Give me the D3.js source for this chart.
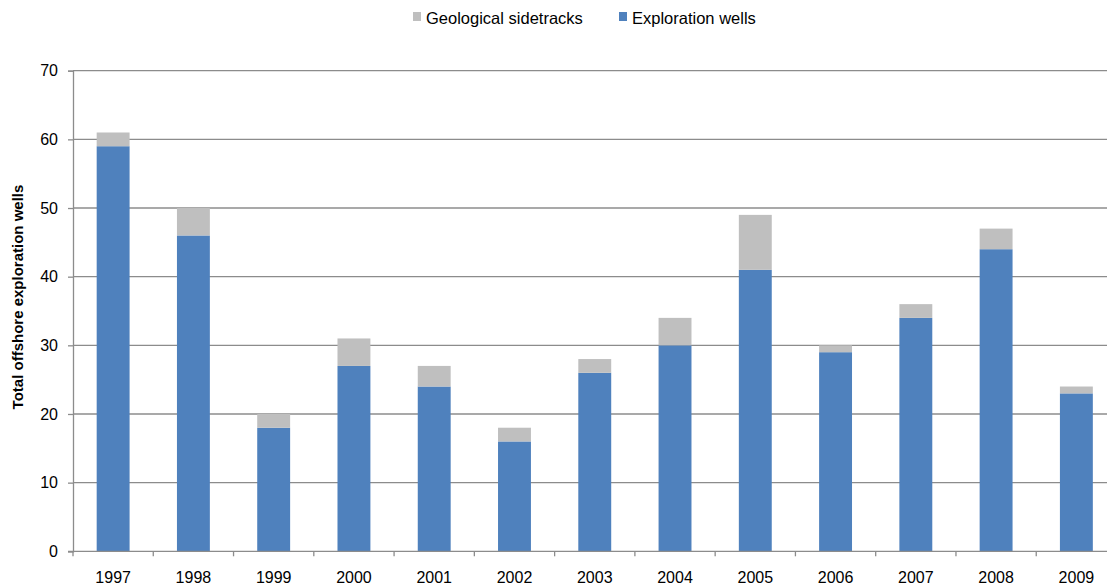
<!DOCTYPE html>
<html>
<head>
<meta charset="utf-8">
<script src="https://cdn.jsdelivr.net/npm/d3@7"></script>
<style>
  body { margin: 0; background: #fff; }
  svg { font-family: 'Liberation Sans', Arial, sans-serif; }
</style>
</head>
<body>
<div id="chart"></div>
<script>
const years = ['1997', '1998', '1999', '2000', '2001', '2002', '2003', '2004', '2005', '2006', '2007', '2008', '2009'];
const explorationWells = [59, 46, 18, 27, 24, 16, 26, 30, 41, 29, 34, 44, 23];
const geologicalSidetracks = [2, 4, 2, 4, 3, 2, 2, 4, 8, 1, 2, 3, 1];
const yTicks = [0, 10, 20, 30, 40, 50, 60, 70];

const width = 1107, height = 587;
const margin = {top: 70.7, left: 73, bottom: 35.7};
const plotWidth = 13 * 80.27;

const svg = d3.select('#chart').append('svg')
    .attr('width', width)
    .attr('height', height);

const x = d3.scaleBand()
    .domain(years)
    .range([margin.left, margin.left + plotWidth])
    .paddingInner(0.59)
    .paddingOuter(0.295);

const y = d3.scaleLinear()
    .domain([0, 70])
    .range([height - margin.bottom, margin.top]);

// gridlines
svg.append('g')
    .selectAll('line')
    .data(yTicks.filter(d => d > 0))
    .join('line')
    .attr('x1', margin.left)
    .attr('x2', margin.left + plotWidth)
    .attr('y1', d => y(d))
    .attr('y2', d => y(d))
    .attr('stroke', '#8c8c8c')
    .attr('stroke-width', 1.3);

// stacked bars
const stacked = years.map((yr, i) => ({year: yr, expl: explorationWells[i], side: geologicalSidetracks[i]}));

svg.append('g')
    .selectAll('rect')
    .data(stacked)
    .join('rect')
    .attr('x', d => x(d.year))
    .attr('width', x.bandwidth())
    .attr('y', d => y(d.expl))
    .attr('height', d => y(0) - y(d.expl))
    .attr('fill', '#4f81bd');

svg.append('g')
    .selectAll('rect')
    .data(stacked)
    .join('rect')
    .attr('x', d => x(d.year))
    .attr('width', x.bandwidth())
    .attr('y', d => y(d.expl + d.side))
    .attr('height', d => y(d.expl) - y(d.expl + d.side))
    .attr('fill', '#bfbfbf');

// y axis
const yAxis = svg.append('g')
    .attr('transform', `translate(${margin.left},0)`)
    .call(d3.axisLeft(y).tickValues(yTicks).tickSize(5).tickPadding(10));
yAxis.select('.domain').attr('stroke', '#8c8c8c').attr('stroke-width', 1.3);
yAxis.selectAll('.tick line').attr('stroke', '#8c8c8c').attr('stroke-width', 1.3);
yAxis.selectAll('.tick text').attr('font-size', 16).attr('fill', '#000')
    .attr('font-family', "'Liberation Sans', Arial, sans-serif");

// x axis with ticks between categories
const xAxisG = svg.append('g')
    .attr('transform', `translate(0,${y(0)})`);
xAxisG.append('line')
    .attr('x1', margin.left - 5)
    .attr('x2', margin.left + plotWidth)
    .attr('stroke', '#8c8c8c')
    .attr('stroke-width', 1.3);
xAxisG.selectAll('line.sep')
    .data(d3.range(years.length + 1))
    .join('line')
    .attr('class', 'sep')
    .attr('x1', i => margin.left + i * x.step())
    .attr('x2', i => margin.left + i * x.step())
    .attr('y1', 0)
    .attr('y2', 5)
    .attr('stroke', '#8c8c8c')
    .attr('stroke-width', 1.3);
xAxisG.selectAll('text')
    .data(years)
    .join('text')
    .attr('x', d => x(d) + x.bandwidth() / 2)
    .attr('y', 32)
    .attr('text-anchor', 'middle')
    .attr('font-size', 16)
    .text(d => d);

// y title
svg.append('text')
    .attr('transform', `translate(23,297) rotate(-90)`)
    .attr('text-anchor', 'middle')
    .attr('font-size', 15)
    .attr('font-weight', 'bold')
    .text('Total offshore exploration wells');

// legend
const legendItems = [
    {label: 'Geological sidetracks', color: '#bfbfbf', x: 413},
    {label: 'Exploration wells', color: '#4f81bd', x: 619}
];
const legend = svg.append('g');
legendItems.forEach(item => {
    legend.append('rect')
        .attr('x', item.x)
        .attr('y', 12)
        .attr('width', 8)
        .attr('height', 9)
        .attr('fill', item.color);
    legend.append('text')
        .attr('x', item.x + 13)
        .attr('y', 24)
        .attr('font-size', 16.5)
        .text(item.label);
});
</script>
</body>
</html>
